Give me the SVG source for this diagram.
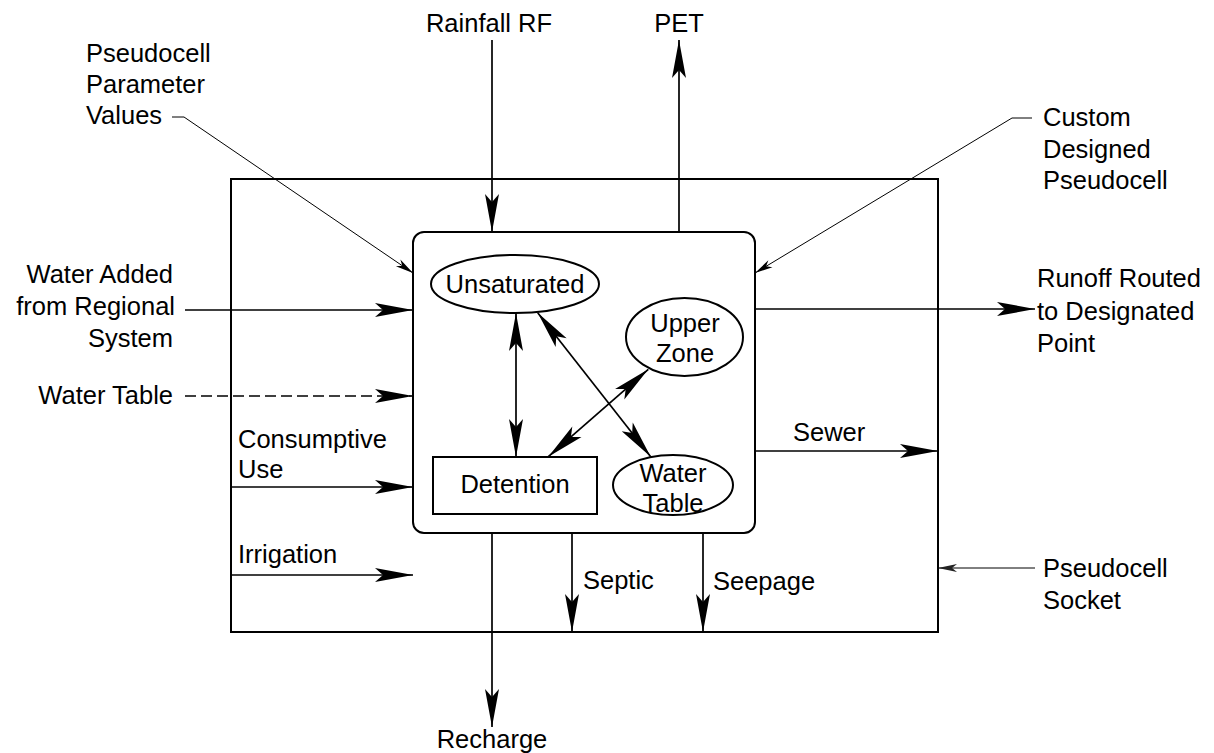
<svg xmlns="http://www.w3.org/2000/svg" width="1214" height="753" viewBox="0 0 1214 753">
  <style>
    text { font-family: "Liberation Sans", Arial, sans-serif; font-size: 25.5px; fill: #000; }
    .mid { text-anchor: middle; }
    .end { text-anchor: end; }
    .box { fill: none; stroke: #000; stroke-width: 2; }
    .flow { fill: none; stroke: #000; stroke-width: 1.7; }
    .lead { fill: none; stroke: #000; stroke-width: 1; }
    .dash { stroke-dasharray: 11 5; }
  </style>
  <defs>
    <!-- long barbed arrowhead used on flow lines -->
    <marker id="ah" viewBox="-40 -8 41 16" refX="0" refY="0" markerWidth="41" markerHeight="16" markerUnits="userSpaceOnUse" orient="auto-start-reverse">
      <path d="M0,0 L-38,-7 L-30,0 L-38,7 Z" fill="#000"/>
    </marker>
    <!-- small arrowheads for callout leaders -->
    <marker id="sm" viewBox="-20 -5 21 10" refX="0" refY="0" markerWidth="21" markerHeight="10" markerUnits="userSpaceOnUse" orient="auto">
      <path d="M0,0 L-18,-4 L-13,0 L-18,4 Z" fill="#000"/>
    </marker>
    <marker id="smg" viewBox="-20 -5 21 10" refX="0" refY="0" markerWidth="21" markerHeight="10" markerUnits="userSpaceOnUse" orient="auto">
      <path d="M0,0 L-19,-4 L-14,0 L-19,4 Z" fill="#222"/>
    </marker>
  </defs>

  <!-- pseudocell socket (outer frame) -->
  <g id="socket">
    <rect class="box" x="231" y="179" width="707" height="453"/>
  </g>

  <!-- pseudocell body -->
  <g id="pseudocell">
    <rect class="box" x="413" y="232" width="342" height="301" rx="11" ry="11"/>
  </g>

  <g id="unsaturated">
    <ellipse class="box" cx="515" cy="284" rx="84" ry="29"/>
    <text class="mid" x="515" y="293">Unsaturated</text>
  </g>

  <g id="upper-zone">
    <ellipse class="box" cx="684.5" cy="337" rx="58.5" ry="39"/>
    <text class="mid" x="685" y="332">Upper</text>
    <text class="mid" x="685" y="362">Zone</text>
  </g>

  <g id="water-table-store">
    <ellipse class="box" cx="673" cy="485" rx="60" ry="30"/>
    <text class="mid" x="673" y="482">Water</text>
    <text class="mid" x="673" y="512">Table</text>
  </g>

  <g id="detention">
    <rect class="box" x="433" y="457" width="164" height="57"/>
    <text class="mid" x="515" y="493">Detention</text>
  </g>

  <!-- connectors -->
  <g id="connectors">
    <!-- internal exchanges -->
    <line class="flow" x1="516" y1="313" x2="516" y2="457" marker-start="url(#ah)" marker-end="url(#ah)"/>
    <line class="flow" x1="537.7" y1="312.7" x2="650.7" y2="456.7" marker-start="url(#ah)" marker-end="url(#ah)"/>
    <line class="flow" x1="648.3" y1="369.3" x2="548.3" y2="456.7" marker-start="url(#ah)" marker-end="url(#ah)"/>

    <!-- top -->
    <line class="flow" x1="492" y1="40" x2="492" y2="232" marker-end="url(#ah)"/>
    <line class="flow" x1="679" y1="232" x2="679" y2="40" marker-end="url(#ah)"/>

    <!-- left inputs -->
    <line class="flow" x1="185" y1="310" x2="413" y2="310" marker-end="url(#ah)"/>
    <line class="flow dash" x1="185" y1="396" x2="413" y2="396" marker-end="url(#ah)"/>
    <line class="flow" x1="231" y1="487" x2="413" y2="487" marker-end="url(#ah)"/>
    <line class="flow" x1="231" y1="575" x2="413" y2="575" marker-end="url(#ah)"/>

    <!-- right outputs -->
    <line class="flow" x1="755" y1="309" x2="1035" y2="309" marker-end="url(#ah)"/>
    <line class="flow" x1="755" y1="451" x2="938" y2="451" marker-end="url(#ah)"/>

    <!-- bottom outputs -->
    <line class="flow" x1="492" y1="533" x2="492" y2="727" marker-end="url(#ah)"/>
    <line class="flow" x1="572" y1="533" x2="572" y2="632" marker-end="url(#ah)"/>
    <line class="flow" x1="703" y1="533" x2="703" y2="632" marker-end="url(#ah)"/>

    <!-- callout leaders -->
    <polyline class="lead" points="172,117 184,117 413,273" marker-end="url(#sm)"/>
    <polyline class="lead" points="1032,118 1012,118 755,273" marker-end="url(#sm)"/>
    <line class="lead" x1="1035" y1="568" x2="938" y2="568" stroke="#555" marker-end="url(#smg)"/>
  </g>

  <!-- labels -->
  <g id="labels">
    <text class="mid" x="489" y="32">Rainfall RF</text>
    <text class="mid" x="679" y="32">PET</text>

    <text x="86" y="62">Pseudocell</text>
    <text x="86" y="93">Parameter</text>
    <text x="86" y="124">Values</text>

    <text x="1043" y="126">Custom</text>
    <text x="1043" y="158">Designed</text>
    <text x="1043" y="189">Pseudocell</text>

    <text class="end" x="173" y="283">Water Added</text>
    <text class="end" x="175" y="315">from Regional</text>
    <text class="end" x="173" y="347">System</text>
    <text class="end" x="173" y="404">Water Table</text>

    <text x="238" y="448">Consumptive</text>
    <text x="238" y="478">Use</text>
    <text x="238" y="563">Irrigation</text>

    <text x="1037" y="287">Runoff Routed</text>
    <text x="1037" y="320">to Designated</text>
    <text x="1037" y="352">Point</text>

    <text x="793" y="441">Sewer</text>
    <text x="1043" y="577">Pseudocell</text>
    <text x="1043" y="609">Socket</text>

    <text x="583" y="589">Septic</text>
    <text x="713" y="590">Seepage</text>
    <text class="mid" x="492" y="748">Recharge</text>
  </g>
</svg>
